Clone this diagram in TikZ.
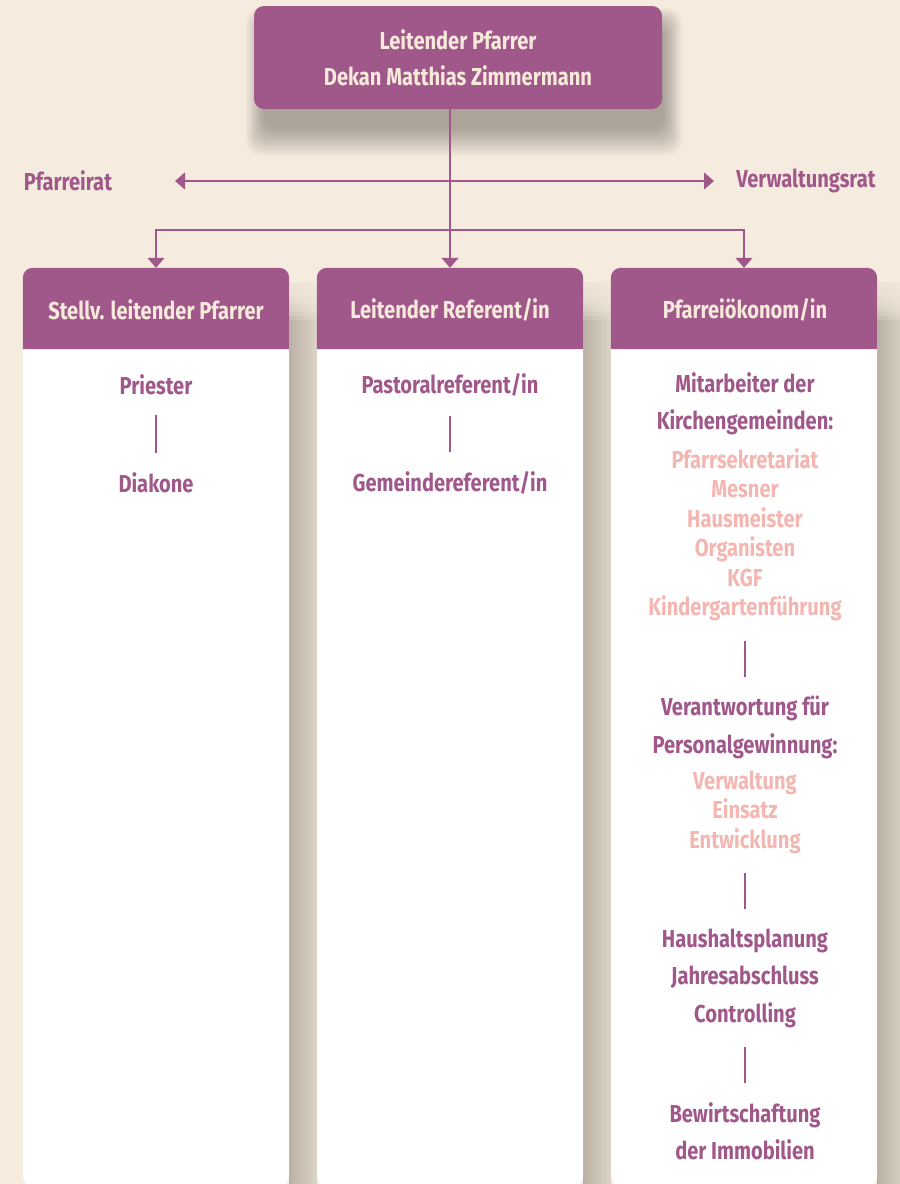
\documentclass[tikz,border=0pt]{standalone}
\usepackage{fontspec}
\setmainfont{Fira Sans}[FakeStretch=0.82]
\usepackage{tikz}
\usetikzlibrary{arrows.meta, backgrounds}
\definecolor{purp}{HTML}{A0588A}
\definecolor{cream}{HTML}{F5EBDF}
\definecolor{pinktxt}{HTML}{F4B6B1}
\definecolor{headtxt}{HTML}{F8EADB}
\definecolor{shdA}{HTML}{BAB0A4}
\definecolor{shdB}{HTML}{DDD4C8}
\tikzstyle{topbox}=[fill=purp, rounded corners=10pt, minimum width=408pt, minimum height=103pt, text=headtxt, font=\bfseries\fontsize{24.5}{36}\selectfont, align=center]
\tikzstyle{card}=[fill=white, rounded corners=10pt, minimum width=266pt, minimum height=918pt, inner sep=0pt]
\tikzstyle{head}=[text=headtxt, font=\bfseries\fontsize{24.5}{36}\selectfont]
\tikzstyle{side}=[text=purp, font=\bfseries\fontsize{24.5}{36}\selectfont]
\tikzstyle{itm}=[text=purp, align=center, font=\bfseries\fontsize{24.5}{37.5}\selectfont]
\tikzstyle{pinkitm}=[text=pinktxt, align=center, font=\bfseries\fontsize{24.5}{29.5}\selectfont]
\tikzstyle{conn}=[draw=purp, line width=1.2pt]
\tikzstyle{vsep}=[draw=purp, line width=1.2pt, shorten <=16pt, shorten >=16pt]
\tikzset{>={Triangle[width=17pt,length=10pt]}}

\begin{document}
\begin{tikzpicture}[x=1pt, y=-1pt]
\useasboundingbox (0,0) rectangle (900,1184);
% the top box and the two sides
\node[topbox] (lp) at (458,57.5) {Leitender Pfarrer\\Dekan Matthias Zimmermann};
\node[side] (pr) at (68,181) {Pfarreirat};
\node[side] (vr) at (806,181) {Verwaltungsrat};
\coordinate (al) at (175,181);
\coordinate (ar) at (714,181);
\coordinate (br) at (450,230);
% the three cards
\node[card] (c1) at (156,727) {};
\node[card] (c2) at (450,727) {};
\node[card] (c3) at (744,727) {};
\fill[purp, rounded corners=10pt] (c1.west |- 0,349) |- (c1.north) -| (c1.east |- 0,349);
\fill[purp, rounded corners=10pt] (c2.west |- 0,349) |- (c2.north) -| (c2.east |- 0,349);
\fill[purp, rounded corners=10pt] (c3.west |- 0,349) |- (c3.north) -| (c3.east |- 0,349);
\node[head] (h1) at (156,310) {Stellv. leitender Pfarrer};
\node[head] (h2) at (450,310) {Leitender Referent/in};
\node[head] (h3) at (745,310) {Pfarreiökonom/in};
% the connectors
\draw[conn, <->] (al) -- (ar);
\draw[conn, ->] (lp.south -| c2.north) -- (c2.north);
\draw[conn, <->] (c1.north) |- (br) -| (c3.north);
% left and middle card
\node[itm] (p1) at (156,385) {Priester};
\node[itm] (p2) at (156,483) {Diakone};
\node[itm] (r1) at (450,385) {Pastoralreferent/in};
\node[itm] (r2) at (450,483) {Gemeindereferent/in};
\draw[vsep] (p1.south) -- (p2.north);
\draw[vsep] (r1.south) -- (r2.north);
% right card
\node[itm] (m1) at (745,404) {Mitarbeiter der\\Kirchengemeinden:};
\node[pinkitm] (m2) at (745,535) {Pfarrsekretariat\\Mesner\\Hausmeister\\Organisten\\KGF\\Kindergartenführung};
\node[itm] (v1) at (745,727.5) {Verantwortung für\\Personalgewinnung:};
\node[pinkitm] (v2) at (745,812) {Verwaltung\\Einsatz\\Entwicklung};
\node[itm] (k1) at (745,978) {Haushaltsplanung\\Jahresabschluss\\Controlling};
\node[itm] (b1) at (745,1131.5) {Bewirtschaftung\\der Immobilien};
\draw[vsep] (m2.south) -- (v1.north);
\draw[vsep] (v2.south) -- (k1.north);
\draw[vsep] (k1.south) -- (b1.north);
% the background and the shadows
\begin{scope}[on background layer]
\fill[cream] (0,0) rectangle (900,1184);
\foreach \i in {0,...,15}
  \fill[black, opacity=0.019, rounded corners=14pt] (246+\i*1.2, 8+\i*1.2) rectangle (682-\i*1.2, 156-\i*1.8);
\foreach \x in {289,583,877} {
  \shade[left color=shdA, right color=shdB] (\x,282) rectangle (\x+28,1190);
  \foreach \i in {0,...,9}
    \fill[cream, opacity=0.22] (\x,270) rectangle (\x+28,284+4*\i);
}
\end{scope}
\end{tikzpicture}
\end{document}
